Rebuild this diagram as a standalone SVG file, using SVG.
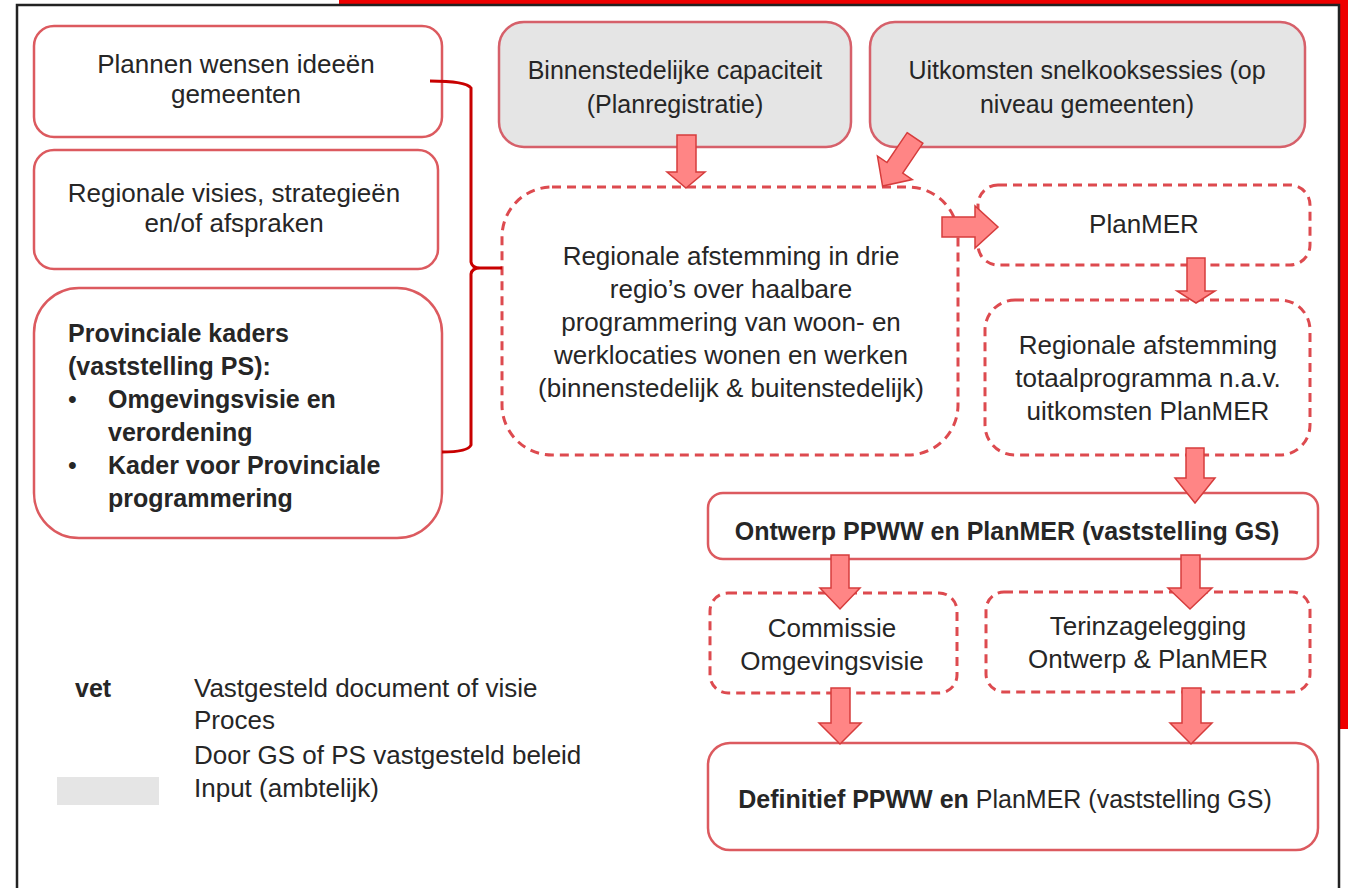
<svg xmlns="http://www.w3.org/2000/svg" width="1348" height="888" viewBox="0 0 1348 888">
<style>
text{font-family:"Liberation Sans",Arial,sans-serif;font-size:26px;fill:#262626}
.c{text-anchor:middle}
.b{font-weight:bold;font-size:25px}
.s25{font-size:25px}
.solid{fill:#ffffff;stroke:#dc5a5f;stroke-width:2.5}
.gray{fill:#e5e5e5;stroke:#d6606a;stroke-width:2.5}
.dash{fill:#ffffff;stroke:#dd4a4f;stroke-width:3;stroke-dasharray:9 6}
.arr{fill:#ff8585;stroke:#d63c3c;stroke-width:1.5;stroke-linejoin:miter}
</style>
<rect x="0" y="0" width="1348" height="888" fill="#ffffff"/>
<polygon points="339,0 1348,0 1348,729 1340,729 1340,4 339,4" fill="#ee0000"/>
<path d="M17,900 L17,5 L1339,5 L1339,900" fill="none" stroke="#222222" stroke-width="2.5"/>

<g id="n-plannen">
<rect class="solid" x="34" y="26" width="408" height="111" rx="20"/>
<text class="c" x="236" y="73">Plannen wensen ideeën</text>
<text class="c" x="236" y="103">gemeenten</text>
</g>
<g id="n-visies">
<rect class="solid" x="34" y="150" width="404" height="119" rx="20"/>
<text class="c" x="234" y="202">Regionale visies, strategieën</text>
<text class="c" x="234" y="232">en/of afspraken</text>
</g>
<g id="n-kaders">
<rect class="solid" x="34" y="288" width="408" height="250" rx="45"/>
<text class="b" x="68" y="342">Provinciale kaders</text>
<text class="b" x="68" y="375">(vaststelling PS):</text>
<text class="s25" x="68" y="408">•</text>
<text class="b" x="108" y="408">Omgevingsvisie en</text>
<text class="b" x="108" y="441">verordening</text>
<text class="s25" x="68" y="474">•</text>
<text class="b" x="108" y="474">Kader voor Provinciale</text>
<text class="b" x="108" y="507">programmering</text>
</g>
<g id="n-binnen">
<rect class="gray" x="499" y="22" width="352" height="125" rx="25"/>
<text class="c s25" x="675" y="79">Binnenstedelijke capaciteit</text>
<text class="c s25" x="675" y="113">(Planregistratie)</text>
</g>
<g id="n-uitkomsten">
<rect class="gray" x="870" y="22" width="435" height="125" rx="25"/>
<text class="c s25" x="1087" y="79">Uitkomsten snelkooksessies (op</text>
<text class="c s25" x="1087" y="113">niveau gemeenten)</text>
</g>
<g id="n-regionaal">
<rect class="dash" x="502" y="187" width="456" height="268" rx="50"/>
<text class="c" x="731" y="265">Regionale afstemming in drie</text>
<text class="c" x="731" y="298">regio’s over haalbare</text>
<text class="c" x="731" y="331">programmering van woon- en</text>
<text class="c" x="731" y="364">werklocaties wonen en werken</text>
<text class="c" x="731" y="397">(binnenstedelijk &amp; buitenstedelijk)</text>
</g>
<g id="n-planmer">
<rect class="dash" x="978" y="185" width="332" height="80" rx="20"/>
<text class="c" x="1144" y="233">PlanMER</text>
</g>
<g id="n-totaal">
<rect class="dash" x="985" y="300" width="325" height="155" rx="30"/>
<text class="c" x="1148" y="354">Regionale afstemming</text>
<text class="c" x="1148" y="387">totaalprogramma n.a.v.</text>
<text class="c" x="1148" y="420">uitkomsten PlanMER</text>
</g>
<g id="n-ontwerp">
<rect class="solid" x="708" y="493" width="610" height="66" rx="15"/>
<text class="c b" x="1007" y="540">Ontwerp PPWW en PlanMER (vaststelling GS)</text>
</g>
<g id="n-commissie">
<rect class="dash" x="710" y="593" width="247" height="100" rx="18"/>
<text class="c" x="832" y="637">Commissie</text>
<text class="c" x="832" y="670">Omgevingsvisie</text>
</g>
<g id="n-terinzage">
<rect class="dash" x="986" y="592" width="324" height="100" rx="18"/>
<text class="c" x="1148" y="635">Terinzagelegging</text>
<text class="c" x="1148" y="668">Ontwerp &amp; PlanMER</text>
</g>
<g id="n-definitief">
<rect class="solid" x="708" y="743" width="610" height="107" rx="22"/>
<text class="c s25" x="1005" y="808"><tspan class="b">Definitief PPWW en </tspan>PlanMER (vaststelling GS)</text>
</g>

<g id="legend">
<text class="b" x="75" y="697">vet</text>
<text x="194" y="697">Vastgesteld document of visie</text>
<text x="194" y="729">Proces</text>
<text x="194" y="764">Door GS of PS vastgesteld beleid</text>
<rect x="57" y="777" width="102" height="28" fill="#e5e5e5"/>
<text x="194" y="797">Input (ambtelijk)</text>
</g>

<g id="connectors">
<path d="M430,81 Q466,81 471,88 L471,262 Q472,268 480,268 L502,268 M480,268 Q472,268 471,274 L471,445 Q468,452 442,452" fill="none" stroke="#c80000" stroke-width="3"/>
<path class="arr" d="M677,135 L696,135 L696,172 L705,172 L686,188 L667,172 L677,172 Z"/>
<path class="arr" transform="translate(915,138) rotate(34)" d="M-9.5,0 L9.5,0 L9.5,36 L21,36 L0,58 L-21,36 L-9.5,36 Z"/>
<path class="arr" d="M942,217 L975,217 L975,206 L998,227 L975,248 L975,237 L942,237 Z"/>
<path class="arr" d="M1187,258 L1205,258 L1205,291 L1215,291 L1196,303 L1177,291 L1187,291 Z"/>
<path class="arr" d="M1186,448 L1204,448 L1204,478 L1215,478 L1195,503 L1175,478 L1186,478 Z"/>
<path class="arr" d="M831,555 L849,555 L849,588 L860,588 L840,609 L820,588 L831,588 Z"/>
<path class="arr" d="M1181,555 L1200,555 L1200,588 L1212,588 L1190,609 L1168,588 L1181,588 Z"/>
<path class="arr" d="M831,688 L850,688 L850,723 L861,723 L840,744 L819,723 L831,723 Z"/>
<path class="arr" d="M1182,688 L1201,688 L1201,723 L1212,723 L1191,744 L1170,723 L1182,723 Z"/>
</g>
</svg>
